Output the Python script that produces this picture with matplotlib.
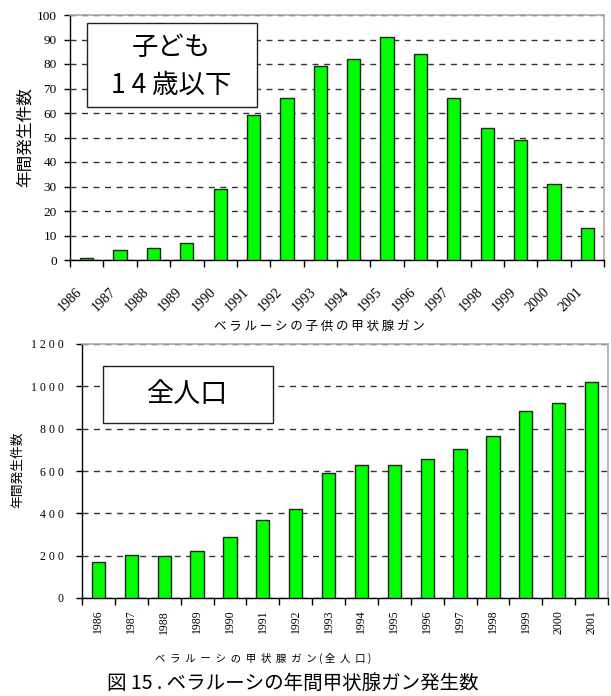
import matplotlib.pyplot as plt
from matplotlib.patches import Rectangle

plt.rcParams['font.family'] = ['Noto Sans CJK JP', 'DejaVu Sans']

years = ['1986', '1987', '1988', '1989', '1990', '1991', '1992', '1993',
         '1994', '1995', '1996', '1997', '1998', '1999', '2000', '2001']
children = [1, 4, 5, 7, 29, 59, 66, 79, 82, 91, 84, 66, 54, 49, 31, 13]
everyone = [168, 201, 200, 222, 286, 370, 420, 590, 628, 628, 656, 703, 766, 882, 920, 1019]

top_ticks = [0, 10, 20, 30, 40, 50, 60, 70, 80, 90, 100]
bottom_ticks = [0, 200, 400, 600, 800, 1000, 1200]

GREEN = '#00ff00'
SERIF = 'Liberation Serif'


def style_axes(ax):
    ax.set_xlim(0, len(years))
    ax.yaxis.grid(True, color='#333333', linestyle=(0, (4.3, 4.0)), linewidth=1.0)
    ax.set_axisbelow(True)
    for side in ('top', 'right'):
        ax.spines[side].set_color('#aaaaaa')
        ax.spines[side].set_linewidth(1.2)
    for side in ('left', 'bottom'):
        ax.spines[side].set_color('black')
        ax.spines[side].set_linewidth(1.0)
    ax.set_xticks(range(len(years) + 1))
    ax.set_xticklabels([])
    ax.tick_params(axis='x', length=5, width=1, color='black')
    ax.tick_params(axis='y', length=4, width=1, color='black')
    ax.tick_params(axis='x', which='minor', length=0)


def label_box(ax, x0, y0, x1, y1):
    ax.add_patch(Rectangle((x0, y0), x1 - x0, y1 - y0, transform=ax.transAxes,
                           facecolor='white', edgecolor='#222222', linewidth=1.0, zorder=5))


fig = plt.figure(figsize=(6.11, 6.96), dpi=100)
x = [i + 0.5 for i in range(len(years))]

# children under 15
ax1 = fig.add_axes([70 / 611, 1 - 260 / 696, 534 / 611, 245 / 696])
ax1.bar(x, children, width=0.4, color=GREEN, edgecolor='#222222', linewidth=1.0, zorder=3)
ax1.set_ylim(0, 100)
style_axes(ax1)
ax1.set_yticks(top_ticks)
ax1.set_yticklabels([str(t) for t in top_ticks], family=SERIF, fontsize=9.5)
ax1.tick_params(axis='y', pad=5.5)
# slanted year labels, anchored a little left of each bar
ax1.set_xticks([i + 0.3 for i in range(len(years))], minor=True)
ax1.set_xticklabels(years, minor=True, rotation=45, ha='right', va='center',
                    rotation_mode='anchor', family=SERIF, fontsize=10)
ax1.tick_params(axis='x', which='minor', pad=21.5)
ax1.set_ylabel('年間発生件数', fontsize=12)
ax1.yaxis.set_label_coords(-0.068, 0.5)
label_box(ax1, 0.032, 0.624, 0.35, 0.967)
ax1.text(0.189, 0.869, '子ども', transform=ax1.transAxes, ha='center', va='center',
         fontsize=19, zorder=6)
ax1.text(0.19, 0.714, '1 4 歳以下', transform=ax1.transAxes, ha='center', va='center',
         fontsize=19, zorder=6)
fig.text(319 / 611, 1 - 326 / 696, ' '.join('ベラルーシの子供の甲状腺ガン'),
         ha='center', va='center', fontsize=9)

# whole population
ax2 = fig.add_axes([82 / 611, 1 - 598 / 696, 526 / 611, 254 / 696])
ax2.bar(x, everyone, width=0.4, color=GREEN, edgecolor='#222222', linewidth=1.0, zorder=3)
ax2.set_ylim(0, 1200)
style_axes(ax2)
ax2.set_yticks(bottom_ticks)
ax2.set_yticklabels([' '.join(str(t)) for t in bottom_ticks], family=SERIF, fontsize=8.5)
ax2.tick_params(axis='y', pad=9)
ax2.set_xticks(x, minor=True)
ax2.set_xticklabels(years, minor=True, rotation=90, ha='center', va='top',
                    family=SERIF, fontsize=8.5)
ax2.tick_params(axis='x', which='minor', pad=8.5)
ax2.set_ylabel('年間発生件数', fontsize=9.2)
ax2.yaxis.set_label_coords(-0.11, 0.504)
label_box(ax2, 0.04, 0.689, 0.363, 0.913)
ax2.text(0.2, 0.80, '全人口', transform=ax2.transAxes, ha='center', va='center',
         fontsize=19.5, zorder=6)

fig.text(263 / 611, 1 - 658 / 696, '  '.join('ベラルーシの甲状腺ガン') + ' ( 全  人  口 )',
         ha='center', va='center', fontsize=7.5)
fig.text(293 / 611, 1 - 683 / 696, '図 15 . ベラルーシの年間甲状腺ガン発生数',
         ha='center', va='center', fontsize=14)

fig.savefig('out.png', dpi=100)
